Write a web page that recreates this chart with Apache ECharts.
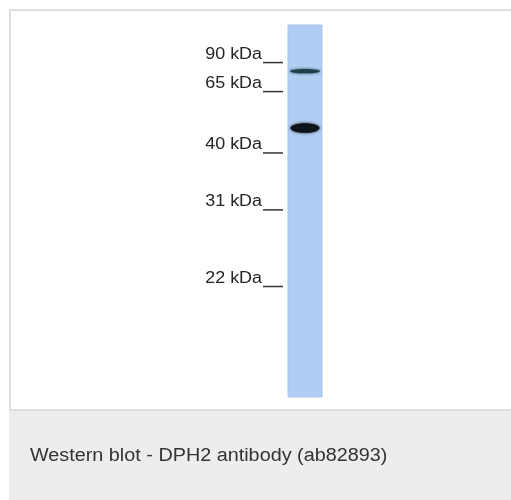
<!DOCTYPE html>
<html>
<head>
<meta charset="utf-8">
<script src="https://cdn.jsdelivr.net/npm/echarts@6/dist/echarts.min.js"></script>
<style>
html, body { margin: 0; padding: 0; background: #ffffff; }
#main { width: 511px; height: 500px; }
</style>
</head>
<body>
<div id="main"></div>
<script>
// ladder markers: name and relative migration down the lane (0 = top, 1 = bottom)
var markerNames = ['90 kDa', '65 kDa', '40 kDa', '31 kDa', '22 kDa'];
var markerRf = [0.101, 0.179, 0.344, 0.497, 0.703];

// bands seen in the sample lane
var bandRf = [0.124, 0.277];
var bandIntensity = [0.9, 1];

var caption = 'Western blot - DPH2 antibody (ab82893)';

// look of the bands (thin / thick)
var bandLook = [
    { rx: 15, ry: 2.2, color: '#183a44' },
    { rx: 14.5, ry: 4.8, color: '#0f141b' }
];

var chart = echarts.init(document.getElementById('main'));

var option = {
    animation: false,
    grid: {
        left: 288,
        right: 189,
        top: 25,
        bottom: 103
    },
    xAxis: { type: 'value', min: 0, max: 1, show: false },
    yAxis: { type: 'value', min: 0, max: 1, inverse: true, show: false },
    graphic: [
        {
            // outer frame
            type: 'rect',
            shape: { x: 10, y: 10, width: 520, height: 400 },
            style: { fill: 'none', stroke: '#dedede', lineWidth: 2 },
            z: 0
        },
        {
            // caption strip
            type: 'rect',
            shape: { x: 9, y: 411, width: 502, height: 89 },
            style: { fill: '#eceeed' },
            z: 0
        },
        {
            type: 'text',
            x: 30,
            y: 456,
            scaleX: 1.1,
            style: {
                text: caption,
                fontSize: 18,
                fontFamily: 'Liberation Sans, Arial, sans-serif',
                fill: '#333333',
                verticalAlign: 'middle'
            },
            z: 1
        }
    ],
    series: [
        {
            // the lane itself
            type: 'custom',
            silent: true,
            data: [[0, 1]],
            renderItem: function (params, api) {
                var a = api.coord([0, api.value(0)]);
                var b = api.coord([1, api.value(1)]);
                return {
                    type: 'rect',
                    shape: { x: a[0], y: a[1], width: b[0] - a[0], height: b[1] - a[1] },
                    style: { fill: '#b1cdf4', stroke: '#a7c3ee', lineWidth: 1 }
                };
            },
            z: 1
        },
        {
            // bands
            type: 'custom',
            silent: true,
            data: bandRf.map(function (v, i) { return [0.5, v, bandIntensity[i]]; }),
            renderItem: function (params, api) {
                var p = api.coord([api.value(0), api.value(1)]);
                var look = bandLook[params.dataIndex];
                return {
                    type: 'ellipse',
                    shape: { cx: p[0], cy: p[1], rx: look.rx, ry: look.ry },
                    style: {
                        fill: look.color,
                        opacity: api.value(2),
                        shadowBlur: 3,
                        shadowColor: look.color
                    }
                };
            },
            z: 3
        },
        {
            // marker labels with their tick
            type: 'custom',
            silent: true,
            data: markerRf.map(function (v) { return [0, v]; }),
            renderItem: function (params, api) {
                var p = api.coord([api.value(0), api.value(1)]);
                return {
                    type: 'group',
                    children: [
                        {
                            type: 'text',
                            x: p[0] - 26,
                            y: p[1] - 8,
                            scaleX: 1.12,
                            style: {
                                text: markerNames[params.dataIndex],
                                fontSize: 16,
                                fontFamily: 'Liberation Sans, Arial, sans-serif',
                                fill: '#262626',
                                align: 'right',
                                verticalAlign: 'middle'
                            }
                        },
                        {
                            type: 'line',
                            shape: { x1: p[0] - 25, y1: p[1], x2: p[0] - 5, y2: p[1] },
                            style: { stroke: '#333333', lineWidth: 1.5 }
                        }
                    ]
                };
            },
            z: 3
        }
    ]
};

chart.setOption(option);
</script>
</body>
</html>
